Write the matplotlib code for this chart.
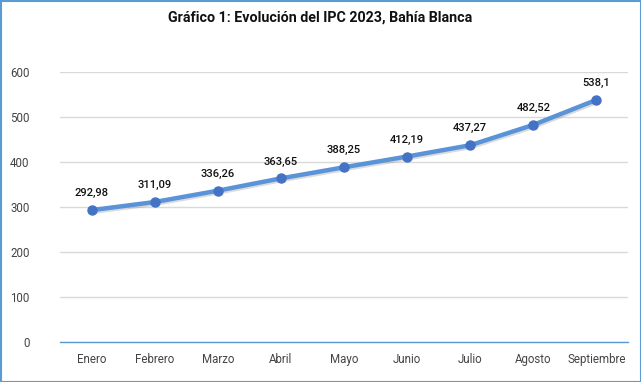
import matplotlib
matplotlib.use("Agg")
import matplotlib.pyplot as plt
import matplotlib.patheffects as pe
from matplotlib.patches import Rectangle

months = ["Enero", "Febrero", "Marzo", "Abril", "Mayo", "Junio", "Julio", "Agosto", "Septiembre"]
ipc = [292.98, 311.09, 336.26, 363.65, 388.25, 412.19, 437.27, 482.52, 538.1]
labels = ["292,98", "311,09", "336,26", "363,65", "388,25", "412,19", "437,27", "482,52", "538,1"]
yticks = [0, 100, 200, 300, 400, 500, 600]

plt.rcParams['font.family'] = ['Roboto', 'DejaVu Sans']

fig = plt.figure(figsize=(6.41, 3.82), dpi=100)
ax = fig.add_axes([60/641, 1-342/382, 568/641, 270/382])

x = list(range(len(months)))
ax.plot(x, ipc, color="#5b93d8", lw=3.2, zorder=3, solid_capstyle="round",
        path_effects=[pe.SimpleLineShadow(offset=(0.8, -1.2), shadow_color="#888888", alpha=0.3),
                      pe.Normal()])
ax.plot(x, ipc, 'o', color="#4472c4", ms=6.5, zorder=4)

for xi, v, lab in zip(x, ipc, labels):
    ax.annotate(lab, (xi, v), xytext=(0, 8.5), textcoords="offset points",
                ha="center", va="bottom", fontsize=8, fontweight="medium", color="#111111")

ax.set_xlim(-0.5, len(months) - 0.5)
ax.set_ylim(0, 600)
ax.set_yticks(yticks)
ax.set_yticklabels([str(t) for t in yticks])
ax.set_xticks(x)
ax.set_xticklabels(months)
ax.tick_params(axis="both", length=0, labelsize=8.3, colors="#444444")
ax.tick_params(axis="y", pad=22)
ax.tick_params(axis="x", pad=8)
ax.grid(axis="y", color="#d9d9d9", lw=1)
ax.set_axisbelow(True)
for s in ["top", "right", "left"]:
    ax.spines[s].set_visible(False)
ax.spines["bottom"].set_color("#5b9bd5")
ax.spines["bottom"].set_linewidth(1)

fig.text(0.5, 1-18/382, "Gráfico 1: Evolución del IPC 2023, Bahía Blanca",
         ha="center", va="center", fontsize=10.3, fontweight="bold", color="#111111")

fig.patches.append(Rectangle((0.5/641, 0.5/382), 1-1/641, 1-1/382, transform=fig.transFigure,
                             fill=False, edgecolor="#5b9bd5", lw=1.5))

fig.savefig("out.png", dpi=100)
